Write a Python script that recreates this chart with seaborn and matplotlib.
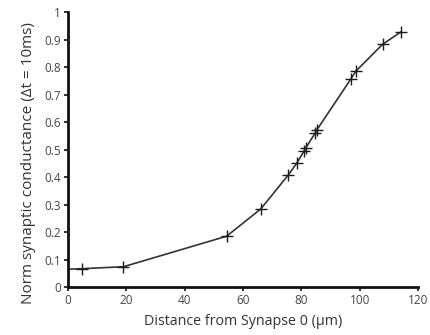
import matplotlib
matplotlib.use("Agg")
import matplotlib.pyplot as plt
import seaborn as sns
import pandas as pd
from matplotlib.ticker import FuncFormatter

distance = [0, 4.9, 19.0, 54.4, 66.1, 75.5, 78.6, 81.0, 81.6, 84.8, 85.3, 96.9, 98.7, 107.9, 114.2]
conductance = [0.065, 0.067, 0.074, 0.185, 0.284, 0.407, 0.453, 0.496, 0.507, 0.561, 0.571, 0.755, 0.785, 0.883, 0.928]
x_ticks = [0, 20, 40, 60, 80, 100, 120]
y_ticks = [0, 0.1, 0.2, 0.3, 0.4, 0.5, 0.6, 0.7, 0.8, 0.9, 1.0]

df = pd.DataFrame({"d": distance, "g": conductance})

sns.set_style("ticks")
plt.rcParams['font.family'] = ['Open Sans', 'DejaVu Sans']

fig = plt.figure(figsize=(4.3, 3.35), dpi=100)
ax = fig.add_axes([0.158, 0.143, 0.814, 0.821])

sns.lineplot(data=df, x="d", y="g", ax=ax, color="#333333", linewidth=1.2,
             marker="+", markersize=8, markeredgewidth=1.0, markeredgecolor="#1a1a1a",
             markevery=list(range(1, len(distance))))

ax.set_xlim(0, 120)
ax.set_ylim(0, 1)
ax.set_xticks(x_ticks)
ax.set_yticks(y_ticks)
ax.yaxis.set_major_formatter(FuncFormatter(lambda v, p: f"{v:g}"))
for s in ["top", "right"]:
    ax.spines[s].set_visible(False)
for s in ["left", "bottom"]:
    ax.spines[s].set_linewidth(2)
    ax.spines[s].set_color("#111111")
ax.tick_params(axis="both", labelsize=8.5, colors="#111111", labelcolor="#444444",
               length=3, width=1.2, direction="out", pad=2)
ax.set_xlabel("Distance from Synapse 0 (μm)", fontsize=10.3, color="#333333", labelpad=5)
ax.set_ylabel("Norm synaptic conductance (Δt = 10ms)", fontsize=11, color="#333333")
ax.yaxis.set_label_coords(-0.09, 0.45)

fig.savefig("out.png", dpi=100)
